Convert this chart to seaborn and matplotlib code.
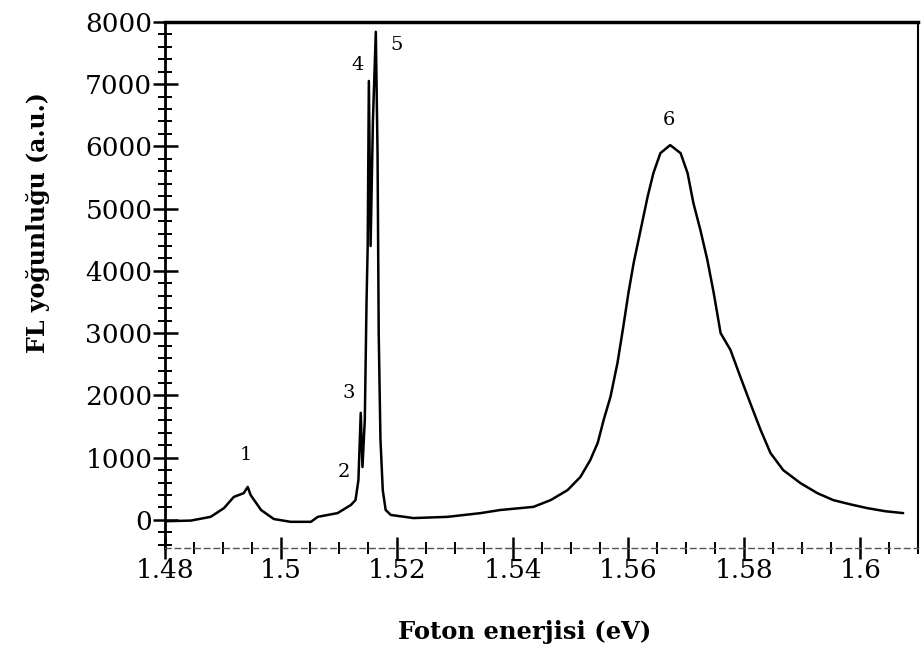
import numpy as np
import pandas as pd
import matplotlib
matplotlib.use("Agg")
import matplotlib.pyplot as plt
from matplotlib.ticker import MultipleLocator
import seaborn as sns

# okunan veri (foton enerjisi, FL yogunlugu)
energy = [1.4802, 1.4845, 1.4879, 1.4902, 1.4919, 1.4936, 1.4943, 1.4948, 1.4966,
          1.4988, 1.5017, 1.5052, 1.5064, 1.5098, 1.5121, 1.5129, 1.5134, 1.5138,
          1.5141, 1.5145, 1.5148, 1.5150, 1.5152, 1.5155, 1.5159, 1.5164, 1.5167,
          1.5169, 1.5172, 1.5176, 1.5181, 1.5190, 1.5229, 1.5288, 1.5345, 1.5379,
          1.5436, 1.5466, 1.5495, 1.5517, 1.5534, 1.5547, 1.5557, 1.5569, 1.5581,
          1.5591, 1.5600, 1.5609, 1.5621, 1.5633, 1.5643, 1.5655, 1.5672, 1.5690,
          1.5702, 1.5712, 1.5724, 1.5736, 1.5747, 1.5759, 1.5776, 1.5793, 1.5810,
          1.5828, 1.5845, 1.5867, 1.5897, 1.5926, 1.5953, 1.5983, 1.6012, 1.6043,
          1.6074]
intensity = [-20, -10, 50, 190, 370, 430, 530, 400, 160,
             15, -30, -30, 50, 110, 240, 320, 640, 1720,
             850, 1600, 3500, 4400, 7050, 4400, 6400, 7840, 5900,
             3000, 1300, 480, 160, 80, 30, 50, 110, 160,
             210, 320, 480, 690, 960, 1240, 1600, 1980, 2520,
             3100, 3650, 4130, 4660, 5190, 5570, 5890, 6020, 5890,
             5570, 5090, 4660, 4180, 3650, 3000, 2730, 2300, 1880,
             1445, 1075, 800, 590, 430, 320, 250, 190, 140,
             110]

# tepe numaralari
peak_labels = ["1", "2", "3", "4", "5", "6"]
peak_x = [1.4940, 1.5109, 1.5117, 1.5133, 1.5200, 1.5669]
peak_y = [1045, 770, 2040, 7300, 7630, 6420]

df = pd.DataFrame({"E": energy, "I": intensity})

sns.set_theme(style="ticks")
plt.rcParams["font.family"] = ["DejaVu Serif"]
plt.rcParams["text.color"] = "black"
plt.rcParams["axes.labelcolor"] = "black"

fig = plt.figure(figsize=(9.21, 6.61), dpi=100)
ax = fig.add_axes([0.179, 0.171, 0.818, 0.796])

sns.lineplot(data=df, x="E", y="I", color="black", linewidth=1.8, ax=ax)

for lab, px, py in zip(peak_labels, peak_x, peak_y):
    ax.text(px, py, lab, ha="center", va="center", fontsize=14, color="black")

ax.set_xlim(1.48, 1.61)
ax.set_ylim(-450, 8000)
ax.xaxis.set_major_locator(MultipleLocator(0.02))
ax.xaxis.set_minor_locator(MultipleLocator(0.005))
ax.yaxis.set_major_locator(MultipleLocator(1000))
ax.yaxis.set_minor_locator(MultipleLocator(200))
ax.set_xticks([1.48, 1.5, 1.52, 1.54, 1.56, 1.58, 1.6])
ax.set_xticklabels(["1.48", "1.5", "1.52", "1.54", "1.56", "1.58", "1.6"])

ax.tick_params(axis="y", which="major", direction="inout", length=18, width=1.8,
               labelsize=19, colors="black", pad=0)
ax.tick_params(axis="y", which="minor", direction="inout", length=10, width=1.4, color="black")
ax.tick_params(axis="x", which="major", direction="inout", length=16, width=1.8,
               labelsize=19, colors="black", pad=-1)
ax.tick_params(axis="x", which="minor", direction="inout", length=8, width=1.4, color="black")
ax.tick_params(axis="y", which="both", right=False)
ax.tick_params(axis="x", which="both", top=False)

ax.spines["top"].set_linewidth(2.5)
ax.spines["left"].set_linewidth(2.0)
ax.spines["right"].set_linewidth(1.5)
ax.spines["bottom"].set_linewidth(1.0)
ax.spines["bottom"].set_color("#555555")
ax.spines["bottom"].set_linestyle((0, (4, 3)))
for s in ax.spines.values():
    s.set_visible(True)
for side in ["top", "left", "right"]:
    ax.spines[side].set_color("black")

ax.set_xlabel("Foton enerjisi (eV)", fontsize=17.5, fontweight="bold")
ax.set_ylabel("FL yoğunluğu (a.u.)", fontsize=17, fontweight="bold")
ax.xaxis.set_label_coords(0.478, -0.137)
ax.yaxis.set_label_coords(-0.153, 0.618)

fig.savefig("out.png", dpi=100)
